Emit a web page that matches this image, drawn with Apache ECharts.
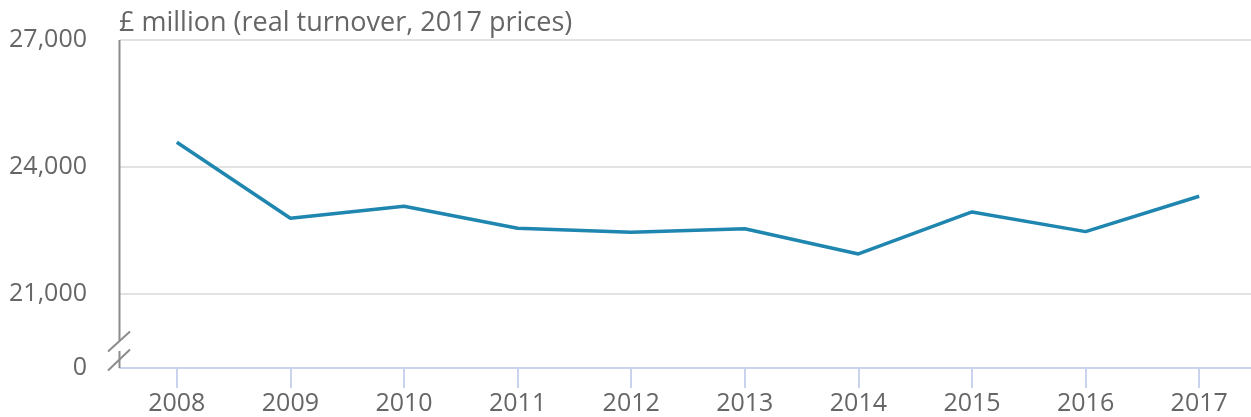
<!DOCTYPE html>
<html>
<head>
<meta charset="utf-8">
<script src="https://cdn.jsdelivr.net/npm/echarts@6/dist/echarts.min.js"></script>
<style>
  html, body { margin: 0; padding: 0; background: #fff; }
  #main { width: 1251px; height: 417px; }
</style>
</head>
<body>
<div id="main"></div>
<script>
// 数据
const years = ['2008', '2009', '2010', '2011', '2012', '2013', '2014', '2015', '2016', '2017']
const turnover = [24583, 22788, 23072, 22552, 22457, 22542, 21945, 22937, 22472, 23308]
// 断轴：底部 "0" 对应的位置
const axisMin = 19250
const yTicks = [axisMin, 21000, 24000, 27000]

const myChart = echarts.init(document.getElementById('main'))
const textColor = '#666666'
const font = 'Open Sans'

myChart.setOption({
  animation: false,
  title: {
    text: '£ million (real turnover, 2017 prices)',
    left: 114,
    top: 5,
    textStyle: { fontFamily: font, fontSize: 27, fontWeight: 'normal', color: textColor }
  },
  grid: { left: 120, right: -5, top: 40, bottom: 49, outerBoundsMode: 'none' },
  xAxis: {
    type: 'category',
    data: years,
    boundaryGap: true,
    axisLine: { lineStyle: { color: '#c9d3ec', width: 2 } },
    axisTick: { show: true, alignWithLabel: true, length: 20, lineStyle: { color: '#c9d3ec', width: 2 } },
    axisLabel: { margin: 23, fontFamily: font, fontSize: 25, color: textColor }
  },
  yAxis: {
    type: 'value',
    min: axisMin,
    max: 27000,
    axisLine: { show: false },
    axisTick: { show: false, customValues: yTicks },
    axisLabel: {
      customValues: yTicks,
      margin: 33,
      padding: [4, 0, 0, 0],
      fontFamily: font,
      fontSize: 25,
      color: textColor,
      formatter: v => v === axisMin ? '0' : v.toLocaleString('en-GB')
    },
    splitLine: { lineStyle: { color: '#e2e2e2', width: 2 } }
  },
  series: [{
    type: 'line',
    data: turnover,
    symbol: 'none',
    lineStyle: { color: '#1f86b0', width: 3.5 },
    z: 3
  }]
})

// 断轴的纵轴线和斜线
const yTop = myChart.convertToPixel({ yAxisIndex: 0 }, 27000)
const yBottom = myChart.convertToPixel({ yAxisIndex: 0 }, axisMin)
const ax = 119.5
const gray = { stroke: '#8c8c8c', lineWidth: 2 }
myChart.setOption({
  graphic: [
    { type: 'line', shape: { x1: ax, y1: yTop, x2: ax, y2: yBottom - 27 }, style: gray, z: 10 },
    { type: 'line', shape: { x1: ax, y1: yBottom - 17, x2: ax, y2: yBottom }, style: gray, z: 10 },
    { type: 'line', shape: { x1: ax - 11.5, y1: yBottom - 16.5, x2: ax + 10.5, y2: yBottom - 36.5 }, style: gray, z: 10 },
    { type: 'line', shape: { x1: ax - 11.5, y1: yBottom + 2.5, x2: ax + 10.5, y2: yBottom - 18.5 }, style: gray, z: 10 }
  ]
})
</script>
</body>
</html>
